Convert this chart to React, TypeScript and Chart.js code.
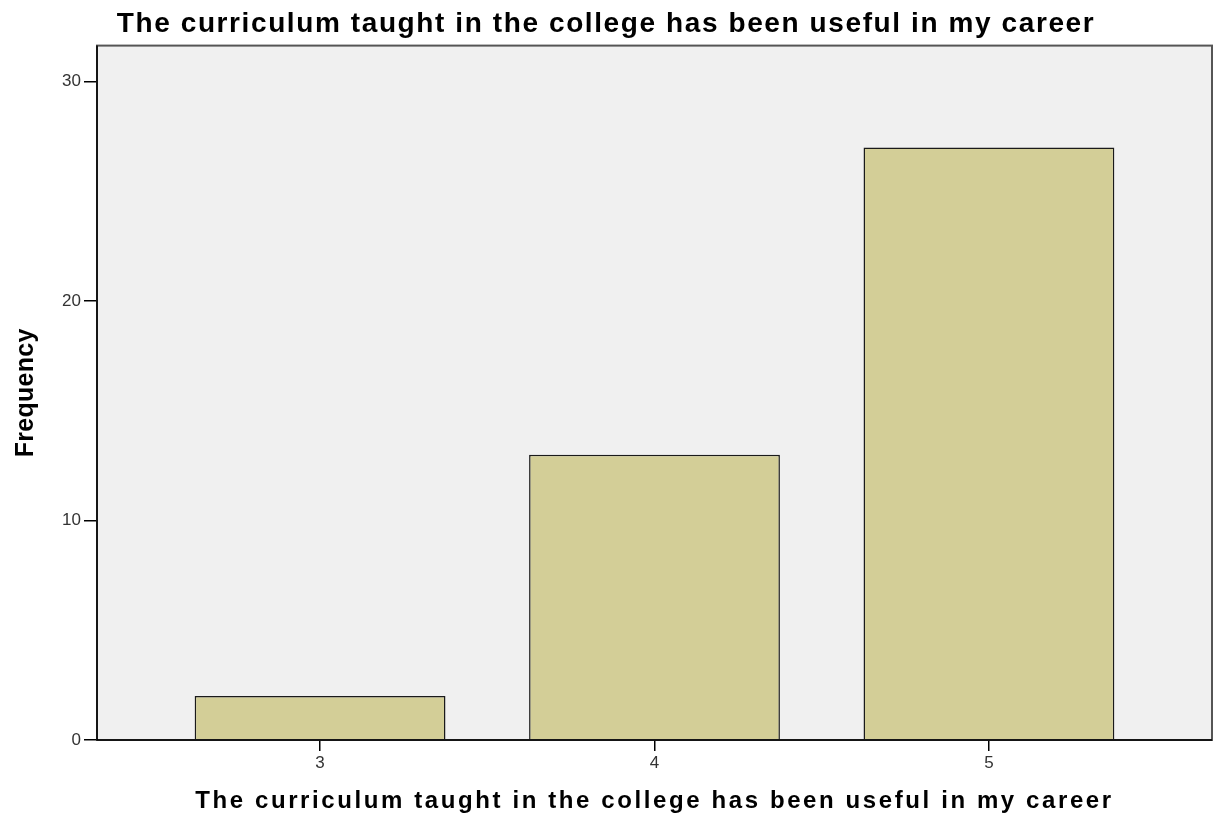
import React, { useEffect, useRef } from "react";
import { Chart, registerables } from "chart.js";

Chart.register(...registerables);

const categories = [3, 4, 5];
const frequencies = [2, 13, 27];
const yTickValues = [0, 10, 20, 30];
const chartTitle = "The curriculum taught in the college has been useful in my career";
const xAxisTitle = "The curriculum taught in the college has been useful in my career";
const yAxisTitle = "Frequency";

const FONT = "'Liberation Sans', Arial, sans-serif";

function withSpacing(ctx: any, spacing: string, fn: () => void) {
  ctx.save();
  ctx.letterSpacing = spacing;
  fn();
  ctx.restore();
}

const plotFrame = {
  id: "plotFrame",
  beforeDraw(chart: any) {
    const { ctx, chartArea } = chart;
    const tb = chart.titleBlock;
    if (tb && !tb.__spaced) {
      const orig = tb.draw.bind(tb);
      tb.draw = (...a: any[]) => withSpacing(chart.ctx, "1.6px", () => orig(...a));
      tb.__spaced = true;
    }
    const xs = chart.scales.x;
    if (xs && !xs.__spaced) {
      const orig = xs.drawTitle.bind(xs);
      xs.drawTitle = (...a: any[]) => withSpacing(chart.ctx, "2.6px", () => orig(...a));
      xs.__spaced = true;
    }
    const ys = chart.scales.y;
    if (ys && !ys.__spaced) {
      const orig = ys.drawTitle.bind(ys);
      ys.drawTitle = (...a: any[]) => withSpacing(chart.ctx, "0.3px", () => orig(...a));
      ys.__spaced = true;
    }
    ctx.save();
    ctx.fillStyle = "#f0f0f0";
    ctx.fillRect(chartArea.left, chartArea.top, chartArea.right - chartArea.left, chartArea.bottom - chartArea.top);
    ctx.restore();
  },
  afterDraw(chart: any) {
    const { ctx, chartArea } = chart;
    ctx.save();
    ctx.strokeStyle = "#555555";
    ctx.lineWidth = 2;
    ctx.strokeRect(chartArea.left, chartArea.top, chartArea.right - chartArea.left, chartArea.bottom - chartArea.top);
    ctx.strokeStyle = "#000";
    ctx.lineWidth = 1.5;
    ctx.beginPath();
    ctx.moveTo(chartArea.left, chartArea.top);
    ctx.lineTo(chartArea.left, chartArea.bottom);
    ctx.lineTo(chartArea.right, chartArea.bottom);
    ctx.stroke();
    ctx.restore();
  },
};

export default function App() {
  const canvasRef = useRef<HTMLCanvasElement | null>(null);

  useEffect(() => {
    if (!canvasRef.current) return;
    const chart = new Chart(canvasRef.current, {
      type: "bar",
      data: {
        datasets: [
          {
            data: categories.map((c, i) => ({ x: c, y: frequencies[i] })),
            backgroundColor: "#d3ce97",
            borderColor: "#1a1a1a",
            borderWidth: 1.5,
            barPercentage: 0.75,
            categoryPercentage: 1,
          },
        ],
      },
      options: {
        animation: false,
        responsive: true,
        maintainAspectRatio: false,
        layout: { padding: { left: 0, right: 2, top: 0, bottom: 0 } },
        plugins: {
          legend: { display: false },
          tooltip: { enabled: false },
          title: {
            display: true,
            text: chartTitle,
            color: "#000",
            font: { family: FONT, size: 28, weight: "bold" },
            padding: { top: 7, bottom: 5 },
          },
        },
        scales: {
          x: {
            type: "linear",
            offset: false,
            min: 2.333,
            max: 5.667,
            afterBuildTicks: (scale: any) => {
              scale.ticks = categories.map((v) => ({ value: v }));
            },
            afterFit: (scale: any) => {
              scale.height = 83;
            },
            grid: { display: true, offset: false, drawOnChartArea: false, drawTicks: true, tickLength: 11, color: "#000", lineWidth: 1.5 },
            border: { display: true, color: "#000", width: 1.5 },
            ticks: { color: "#333", font: { family: FONT, size: 17 }, padding: 2, callback: (v: any) => String(v) },
            title: {
              display: true,
              text: xAxisTitle,
              color: "#000",
              font: { family: FONT, size: 24, weight: "bold" },
              padding: { top: 0, bottom: 7 },
            },
          },
          y: {
            type: "linear",
            min: 0,
            max: 31.65,
            afterBuildTicks: (scale: any) => {
              scale.ticks = yTickValues.map((v) => ({ value: v }));
            },
            afterFit: (scale: any) => {
              scale.width = 97;
            },
            grid: { display: true, drawOnChartArea: false, drawTicks: true, tickLength: 13, color: "#000", lineWidth: 1.5 },
            border: { display: true, color: "#000", width: 1.5 },
            ticks: { color: "#333", font: { family: FONT, size: 17 }, padding: 3 },
            title: {
              display: true,
              text: yAxisTitle,
              color: "#000",
              font: { family: FONT, size: 25, weight: "bold" },
              padding: { top: 11, bottom: 0 },
            },
          },
        },
      },
      plugins: [plotFrame],
    });
    return () => chart.destroy();
  }, []);

  return (
    <div style={{ position: "absolute", left: 0, top: 0, width: 1214, height: 823, background: "#fff" }}>
      <canvas ref={canvasRef} />
    </div>
  );
}
